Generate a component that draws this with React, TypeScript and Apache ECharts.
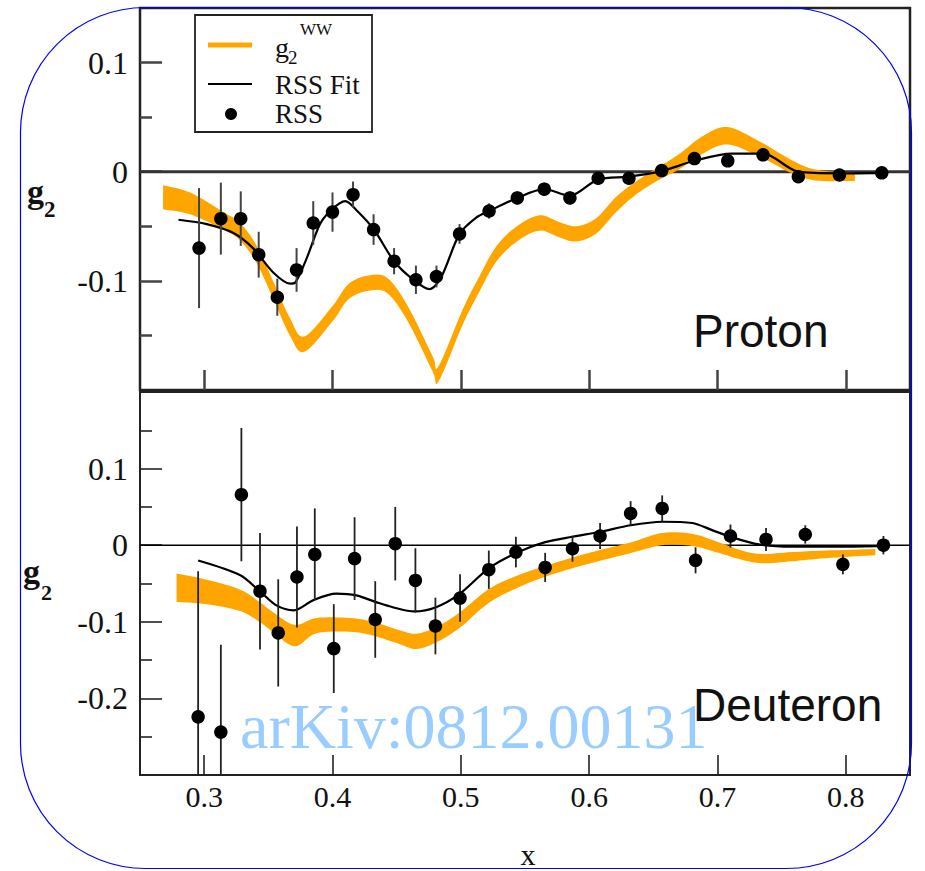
import React, { useEffect, useRef } from "react";
import * as echarts from "echarts";

// ---------- shared axis values ----------
const xMin = 0.25;
const xMax = 0.85;
const xTicks = [0.3, 0.4, 0.5, 0.6, 0.7, 0.8];

const protonYMin = -0.2;
const protonYMax = 0.15;
const protonYTicks = [-0.1, 0, 0.1];
const protonYMinor = [-0.15, -0.05, 0.05];

const deuteronYMin = -0.3;
const deuteronYMax = 0.2;
const deuteronYTicks = [-0.2, -0.1, 0, 0.1];
const deuteronYMinor = [-0.25, -0.15, -0.05, 0.05, 0.15];

// ---------- proton ----------
const protonRssX = [0.296, 0.313, 0.3285, 0.3425, 0.357, 0.372, 0.385, 0.4, 0.416, 0.432, 0.448, 0.465, 0.481, 0.499, 0.522, 0.544, 0.565, 0.585, 0.607, 0.631, 0.6565, 0.682, 0.708, 0.7355, 0.763, 0.795, 0.828];
const protonRssY = [-0.07, -0.043, -0.043, -0.076, -0.115, -0.09, -0.047, -0.037, -0.021, -0.053, -0.082, -0.099, -0.096, -0.057, -0.036, -0.024, -0.016, -0.024, -0.006, -0.006, 0.001, 0.012, 0.01, 0.0155, -0.0045, -0.003, -0.001];
const protonRssErr = [0.055, 0.033, 0.025, 0.021, 0.017, 0.02, 0.02, 0.018, 0.012, 0.014, 0.012, 0.013, 0.01, 0.009, 0.007, 0.006, 0.006, 0.006, 0.006, 0.005, 0.005, 0.005, 0.005, 0.005, 0.005, 0.004, 0.004];

const protonFitX = [0.28, 0.302, 0.3225, 0.338, 0.354, 0.367, 0.371, 0.38, 0.39, 0.398, 0.4055, 0.41, 0.4185, 0.432, 0.448, 0.4625, 0.4755, 0.4846, 0.499, 0.512, 0.522, 0.544, 0.565, 0.585, 0.607, 0.631, 0.6565, 0.682, 0.711, 0.7355, 0.763, 0.795, 0.828];
const protonFitY = [-0.044, -0.048, -0.056, -0.07, -0.0925, -0.1025, -0.1015, -0.079, -0.0485, -0.036, -0.029, -0.027, -0.035, -0.0525, -0.082, -0.0985, -0.1076, -0.097, -0.057, -0.042, -0.036, -0.024, -0.016, -0.022, -0.007, -0.0045, 0.0005, 0.01, 0.0166, 0.0166, 0.0, -0.0015, -0.001];

const protonWwX = [0.268, 0.289, 0.315, 0.328, 0.341, 0.354, 0.367, 0.378, 0.4, 0.4133, 0.4314, 0.4444, 0.46, 0.478, 0.4827, 0.5014, 0.5144, 0.5274, 0.5429, 0.561, 0.5765, 0.5896, 0.6051, 0.6207, 0.6362, 0.6543, 0.6699, 0.688, 0.7075, 0.7321, 0.758, 0.7762, 0.802, 0.807];
const protonWwMid = [-0.0235, -0.029, -0.045, -0.055, -0.076, -0.109, -0.1425, -0.158, -0.13, -0.109, -0.1015, -0.106, -0.133, -0.176, -0.185, -0.1333, -0.103, -0.0758, -0.0576, -0.047, -0.053, -0.057, -0.05, -0.0304, -0.0152, -0.0015, 0.009, 0.0242, 0.033, 0.0212, 0.0045, -0.003, -0.0045, -0.0045];
const protonWwHalf = [0.011, 0.01, 0.008, 0.008, 0.008, 0.008, 0.008, 0.007, 0.007, 0.007, 0.007, 0.007, 0.007, 0.007, 0.007, 0.007, 0.007, 0.007, 0.007, 0.007, 0.007, 0.007, 0.007, 0.007, 0.006, 0.006, 0.007, 0.008, 0.008, 0.007, 0.006, 0.005, 0.004, 0.004];

// ---------- deuteron ----------
const deuteronRssX = [0.2953, 0.313, 0.329, 0.3435, 0.3577, 0.3723, 0.3862, 0.401, 0.4172, 0.4333, 0.4489, 0.4646, 0.4802, 0.4994, 0.5218, 0.5429, 0.5657, 0.587, 0.6085, 0.6323, 0.6569, 0.6829, 0.7101, 0.7378, 0.7684, 0.7977, 0.8293];
const deuteronRssY = [-0.224, -0.244, 0.066, -0.06, -0.1145, -0.0415, -0.012, -0.135, -0.0175, -0.097, 0.002, -0.046, -0.1055, -0.069, -0.032, -0.009, -0.029, -0.0045, 0.012, 0.0415, 0.048, -0.0197, 0.012, 0.0075, 0.014, -0.025, 0.0];
const deuteronRssErr = [0.19, 0.114, 0.087, 0.076, 0.07, 0.066, 0.06, 0.058, 0.054, 0.05, 0.048, 0.042, 0.037, 0.031, 0.025, 0.02, 0.019, 0.017, 0.017, 0.016, 0.017, 0.017, 0.015, 0.015, 0.012, 0.013, 0.012];

const deuteronFitX = [0.2953, 0.3278, 0.3433, 0.3563, 0.3698, 0.3848, 0.403, 0.4185, 0.434, 0.447, 0.4638, 0.4807, 0.4988, 0.522, 0.5448, 0.5657, 0.587, 0.6085, 0.6323, 0.6569, 0.6803, 0.6958, 0.7101, 0.7321, 0.758, 0.797, 0.8293];
const deuteronFitY = [-0.02, -0.039, -0.06, -0.0786, -0.085, -0.072, -0.0633, -0.0655, -0.0743, -0.081, -0.0865, -0.081, -0.064, -0.03, -0.009, 0.004, 0.011, 0.0175, 0.026, 0.0306, 0.029, 0.0197, 0.011, 0.001, -0.002, -0.002, -0.001];

const deuteronWwX = [0.2785, 0.302, 0.328, 0.3433, 0.3537, 0.3705, 0.3874, 0.4133, 0.4314, 0.4522, 0.4652, 0.4807, 0.499, 0.522, 0.545, 0.566, 0.587, 0.607, 0.633, 0.657, 0.68, 0.7007, 0.719, 0.7347, 0.758, 0.784, 0.823];
const deuteronWwMid = [-0.0555, -0.061, -0.072, -0.0874, -0.1005, -0.118, -0.105, -0.104, -0.109, -0.12, -0.1255, -0.117, -0.098, -0.066, -0.047, -0.034, -0.023, -0.014, -0.003, 0.008, 0.007, -0.003, -0.013, -0.0175, -0.015, -0.012, -0.009];
const deuteronWwHalf = [0.0185, 0.016, 0.014, 0.013, 0.013, 0.014, 0.01, 0.009, 0.009, 0.009, 0.01, 0.01, 0.01, 0.009, 0.008, 0.007, 0.007, 0.007, 0.007, 0.008, 0.008, 0.007, 0.006, 0.006, 0.006, 0.005, 0.004];

const ORANGE = "#FFA500";
const SERIF = "'Liberation Serif', 'DejaVu Serif', serif";
const SANS = "'Liberation Sans', Arial, sans-serif";

// Catmull-Rom through pixel points so the band edges are drawn smoothly
function smoothPixels(pts: number[][], steps = 8): number[][] {
  if (pts.length < 3) return pts;
  const out: number[][] = [];
  for (let i = 0; i < pts.length - 1; i++) {
    const p0 = pts[Math.max(i - 1, 0)];
    const p1 = pts[i];
    const p2 = pts[i + 1];
    const p3 = pts[Math.min(i + 2, pts.length - 1)];
    for (let s = 0; s < steps; s++) {
      const t = s / steps;
      const t2 = t * t;
      const t3 = t2 * t;
      const f = (a: number, b: number, c: number, d: number) =>
        0.5 * (2 * b + (-a + c) * t + (2 * a - 5 * b + 4 * c - d) * t2 + (-a + 3 * b - 3 * c + d) * t3);
      out.push([f(p0[0], p1[0], p2[0], p3[0]), f(p0[1], p1[1], p2[1], p3[1])]);
    }
  }
  out.push(pts[pts.length - 1]);
  return out;
}

function bandSeries(xs: number[], mids: number[], halves: number[], axis: number) {
  return {
    type: "custom",
    xAxisIndex: axis,
    yAxisIndex: axis * 2,
    z: 2,
    clip: true,
    encode: { x: 0, y: [1, 2] },
    data: xs.map((x, i) => [x, mids[i] - halves[i], mids[i] + halves[i]]),
    renderItem: (params: any, api: any) => {
      if (params.dataIndex !== 0) return null;
      const upper = xs.map((x, i) => api.coord([x, mids[i] + halves[i]]));
      const lower = xs.map((x, i) => api.coord([x, mids[i] - halves[i]]));
      const points = smoothPixels(upper).concat(smoothPixels(lower).reverse());
      return { type: "polygon", shape: { points }, style: { fill: ORANGE } };
    },
  };
}

function errorSeries(xs: number[], ys: number[], errs: number[], axis: number, color: string, width: number) {
  return {
    type: "custom",
    xAxisIndex: axis,
    yAxisIndex: axis * 2,
    z: 4,
    clip: true,
    encode: { x: 0, y: [1, 2] },
    data: xs.map((x, i) => [x, ys[i] - errs[i], ys[i] + errs[i]]),
    renderItem: (_params: any, api: any) => {
      const a = api.coord([api.value(0), api.value(1)]);
      const b = api.coord([api.value(0), api.value(2)]);
      return {
        type: "line",
        shape: { x1: a[0], y1: a[1], x2: b[0], y2: b[1] },
        style: { stroke: color, lineWidth: width },
      };
    },
  };
}

const yLabelFmt = (v: number) => (Math.abs(v) < 1e-9 ? "0" : v.toFixed(1));

function yAxes(grid: number, min: number, max: number, major: number[], minor: number[], tickColor: string, tickWidth: number) {
  const common = {
    type: "value",
    gridIndex: grid,
    position: "left",
    offset: 0,
    min,
    max,
    axisLine: { show: false, onZero: false },
    splitLine: { show: false },
  };
  return [
    {
      ...common,
      axisTick: { inside: true, length: 22, customValues: major, lineStyle: { color: tickColor, width: tickWidth } },
      axisLabel: {
        customValues: major,
        formatter: yLabelFmt,
        margin: 12,
        fontFamily: SERIF,
        fontSize: 32,
        color: "#111",
      },
    },
    {
      ...common,
      axisTick: { inside: true, length: 12, customValues: minor, lineStyle: { color: tickColor, width: tickWidth } },
      axisLabel: { show: false },
    },
  ];
}

function xAxis(grid: number, showLabels: boolean, tickColor: string, tickWidth: number) {
  return {
    type: "value",
    gridIndex: grid,
    position: "bottom",
    min: xMin,
    max: xMax,
    axisLine: { show: false, onZero: false },
    splitLine: { show: false },
    axisTick: { inside: true, length: 20, customValues: xTicks, lineStyle: { color: tickColor, width: tickWidth } },
    axisLabel: {
      show: showLabels,
      customValues: xTicks,
      formatter: (v: number) => v.toFixed(1),
      margin: 6,
      fontFamily: SERIF,
      fontSize: 30,
      color: "#111",
    },
  };
}

function zeroLine(axis: number, color: string, width: number) {
  return {
    type: "line",
    xAxisIndex: axis,
    yAxisIndex: axis * 2,
    z: 1,
    symbol: "none",
    silent: true,
    data: [
      [xMin, 0],
      [xMax, 0],
    ],
    lineStyle: { color, width },
  };
}

function fitSeries(xs: number[], ys: number[], axis: number) {
  return {
    type: "line",
    xAxisIndex: axis,
    yAxisIndex: axis * 2,
    z: 3,
    smooth: 0.3,
    symbol: "none",
    data: xs.map((x, i) => [x, ys[i]]),
    lineStyle: { color: "#000", width: 2.2 },
  };
}

function pointSeries(xs: number[], ys: number[], axis: number) {
  return {
    type: "scatter",
    xAxisIndex: axis,
    yAxisIndex: axis * 2,
    z: 5,
    symbol: "circle",
    symbolSize: 13.5,
    data: xs.map((x, i) => [x, ys[i]]),
    itemStyle: { color: "#000", opacity: 1 },
  };
}

export default function App() {
  const ref = useRef<HTMLDivElement>(null);

  useEffect(() => {
    document.body.style.margin = "0";
    if (!ref.current) return;
    const chart = echarts.init(ref.current, undefined, { renderer: "svg" });

    const option: any = {
      animation: false,
      backgroundColor: "#fff",
      grid: [
        { left: 140, top: 8, width: 770, height: 382, show: true, borderColor: "#222", borderWidth: 2.5, backgroundColor: "transparent" },
        { left: 140, top: 392, width: 770, height: 383, show: true, borderColor: "#222", borderWidth: 2, backgroundColor: "transparent" },
      ],
      xAxis: [xAxis(0, false, "#444", 2.5), xAxis(1, true, "#222", 1.6)],
      yAxis: [
        ...yAxes(0, protonYMin, protonYMax, protonYTicks, protonYMinor, "#444", 2.5),
        ...yAxes(1, deuteronYMin, deuteronYMax, deuteronYTicks, deuteronYMinor, "#222", 1.6),
      ],
      series: [
        zeroLine(0, "#333", 3),
        bandSeries(protonWwX, protonWwMid, protonWwHalf, 0),
        fitSeries(protonFitX, protonFitY, 0),
        errorSeries(protonRssX, protonRssY, protonRssErr, 0, "#444", 2),
        pointSeries(protonRssX, protonRssY, 0),

        zeroLine(1, "#000", 1.5),
        bandSeries(deuteronWwX, deuteronWwMid, deuteronWwHalf, 1),
        fitSeries(deuteronFitX, deuteronFitY, 1),
        errorSeries(deuteronRssX, deuteronRssY, deuteronRssErr, 1, "#222", 1.8),
        pointSeries(deuteronRssX, deuteronRssY, 1),
      ],
      graphic: [
        // rounded frame around the figure
        {
          type: "rect",
          z: 100,
          silent: true,
          shape: { x: 20.5, y: 7.5, width: 891, height: 861, r: 125 },
          style: { fill: "none", stroke: "#0000ff", lineWidth: 1.2 },
        },
        // legend
        {
          type: "rect",
          z: 100,
          shape: { x: 195, y: 15, width: 177, height: 117 },
          style: { fill: "#fff", stroke: "#222", lineWidth: 1.8 },
        },
        { type: "line", z: 101, shape: { x1: 208, y1: 45, x2: 252, y2: 45 }, style: { stroke: ORANGE, lineWidth: 5 } },
        { type: "text", z: 101, x: 275, y: 47, style: { text: "g", font: `28px ${SERIF}`, fill: "#111", verticalAlign: "middle" } },
        { type: "text", z: 101, x: 288, y: 57, style: { text: "2", font: `19px ${SERIF}`, fill: "#111", verticalAlign: "middle" } },
        { type: "text", z: 101, x: 300, y: 29, style: { text: "WW", font: `17px ${SERIF}`, fill: "#111", verticalAlign: "middle" } },
        { type: "line", z: 101, shape: { x1: 208, y1: 84, x2: 252, y2: 84 }, style: { stroke: "#000", lineWidth: 2 } },
        { type: "text", z: 101, x: 275, y: 85, style: { text: "RSS Fit", font: `27px ${SERIF}`, fill: "#111", verticalAlign: "middle" } },
        { type: "circle", z: 101, shape: { cx: 231, cy: 114, r: 6 }, style: { fill: "#000" } },
        { type: "text", z: 101, x: 275, y: 114, style: { text: "RSS", font: `27px ${SERIF}`, fill: "#111", verticalAlign: "middle" } },

        // y-axis titles
        { type: "text", z: 100, x: 27, y: 191, style: { text: "g", font: `bold 34px ${SERIF}`, fill: "#111", verticalAlign: "middle" } },
        { type: "text", z: 100, x: 44, y: 209, style: { text: "2", font: `bold 23px ${SERIF}`, fill: "#111", verticalAlign: "middle" } },
        { type: "text", z: 100, x: 23, y: 571, style: { text: "g", font: `bold 34px ${SERIF}`, fill: "#111", verticalAlign: "middle" } },
        { type: "text", z: 100, x: 41, y: 592, style: { text: "2", font: `bold 22px ${SERIF}`, fill: "#111", verticalAlign: "middle" } },

        // x-axis title
        { type: "text", z: 100, x: 528, y: 854, style: { text: "x", font: `30px ${SERIF}`, fill: "#111", align: "center", verticalAlign: "middle" } },

        // panel names
        { type: "text", z: 100, x: 693, y: 331, style: { text: "Proton", font: `46px ${SANS}`, fill: "#111", verticalAlign: "middle" } },
        { type: "text", z: 100, x: 693, y: 705, style: { text: "Deuteron", font: `46px ${SANS}`, fill: "#111", verticalAlign: "middle" } },

        // watermark
        { type: "text", z: 100, x: 240, y: 726, style: { text: "arKiv:0812.00131", font: `64px ${SERIF}`, fill: "#99CCFF", verticalAlign: "middle" } },
      ],
    };

    chart.setOption(option);
    return () => chart.dispose();
  }, []);

  return <div ref={ref} style={{ width: 925, height: 871 }} />;
}
